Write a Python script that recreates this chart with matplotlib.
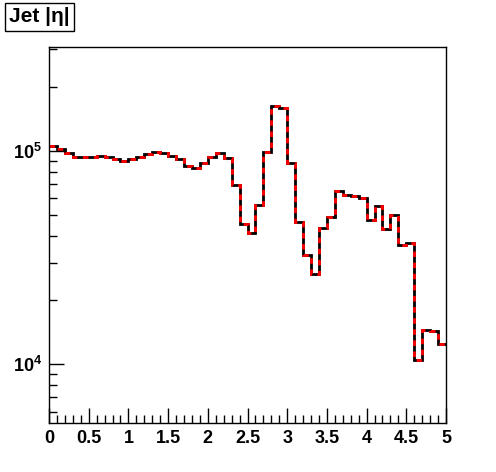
import numpy as np
import matplotlib
matplotlib.use("Agg")
import matplotlib.pyplot as plt
from matplotlib.ticker import FixedLocator, FixedFormatter, MultipleLocator, NullFormatter

plt.rcParams["font.family"] = ["Liberation Sans", "DejaVu Sans"]
plt.rcParams["mathtext.fontset"] = "custom"
plt.rcParams["mathtext.rm"] = "Liberation Sans"
plt.rcParams["mathtext.bf"] = "Liberation Sans:bold"

# jet |eta| histogram, 50 bins from 0 to 5
bin_edges = np.linspace(0, 5, 51)
counts = [
    105500, 102200, 97300, 94000, 94000, 94000, 95100, 94000, 91700, 89500,
    91400, 94000, 96500, 98600, 97500, 95100, 91400, 85300, 83500, 88100,
    93700, 98200, 93000, 69300, 45300, 41400, 56100, 98600, 162600, 159600,
    88100, 46600, 32500, 26500, 43700, 49200, 65150, 62400, 61700, 60400,
    47600, 55400, 43200, 50300, 36250, 36850, 10470, 14560, 14370, 12450,
]
title = "Jet |η|"

fig = plt.figure(figsize=(4.96, 4.72), dpi=100)
ax = fig.add_axes([49 / 496, 1 - 423 / 472, 397 / 496, 376 / 472])

ax.stairs(counts, bin_edges, baseline=None, color="black", lw=2.0)
ax.stairs(counts, bin_edges, baseline=None, color="red", lw=2.0, linestyle=(0, (2.0, 2.0)))

ax.set_yscale("log")
ax.set_xlim(0, 5)
ax.set_ylim(5310, 3.07e5)

xt = np.arange(0, 5.01, 0.5)
ax.set_xticks(xt)
ax.set_xticklabels(["%g" % v for v in xt])
ax.xaxis.set_minor_locator(MultipleLocator(0.1))

ax.yaxis.set_major_locator(FixedLocator([1e4, 1e5]))
ax.yaxis.set_major_formatter(FixedFormatter([r"$\mathbf{10^{4}}$", r"$\mathbf{10^{5}}$"]))
minors = [m * d for d in (1e3, 1e4, 1e5) for m in range(2, 10)]
ax.yaxis.set_minor_locator(FixedLocator(minors))
ax.yaxis.set_minor_formatter(NullFormatter())

ax.tick_params(which="both", direction="in", top=False, right=False, width=1, colors="black")
ax.tick_params(which="major", length=11, labelsize=13, pad=5)
ax.tick_params(which="minor", length=6)
for lab in ax.get_xticklabels():
    lab.set_fontweight("bold")
for sp in ax.spines.values():
    sp.set_linewidth(1)

fig.text(9 / 496, 1 - 17 / 472, title, fontsize=15, fontweight="bold", va="center", ha="left",
         bbox=dict(boxstyle="square,pad=0.2", fc="white", ec="black", lw=1))

fig.savefig("out.png", dpi=100)
